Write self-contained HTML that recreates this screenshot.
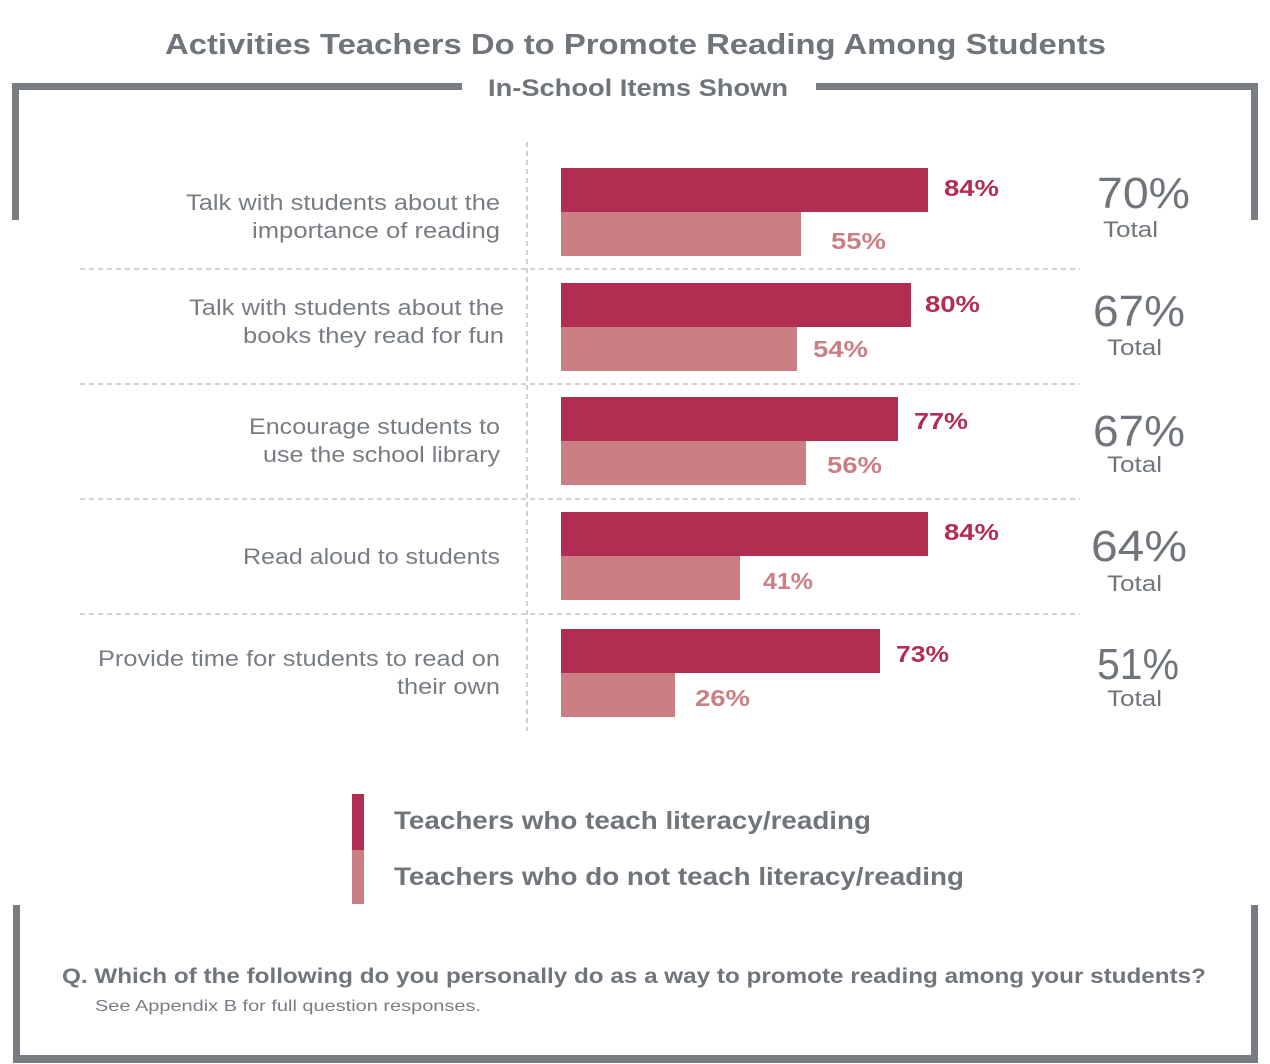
<!DOCTYPE html>
<html><head><meta charset="utf-8"><style>
body{margin:0;background:#fff;}
svg{display:block;font-family:"Liberation Sans",sans-serif;}
</style></head><body>
<svg width="1270" height="1064" viewBox="0 0 1270 1064">
<rect width="1270" height="1064" fill="#fff"/>
<g fill="#777d83">
<rect x="12" y="83" width="450" height="7"/>
<rect x="12" y="83" width="7" height="137"/>
<rect x="816" y="83" width="442" height="7"/>
<rect x="1251" y="83" width="7" height="137"/>
<rect x="13" y="905" width="7" height="158"/>
<rect x="13" y="1055" width="1245" height="8"/>
<rect x="1251" y="905" width="7" height="158"/>
</g>
<g lengthAdjust="spacingAndGlyphs">
<text x="165" y="54" textLength="941" lengthAdjust="spacingAndGlyphs" font-size="29" font-weight="bold" fill="#6f757b">Activities Teachers Do to Promote Reading Among Students</text>
<text x="488" y="96" textLength="300" lengthAdjust="spacingAndGlyphs" font-size="24" font-weight="bold" fill="#6f757b">In-School Items Shown</text>
</g>
<g stroke="#b5b8bb" stroke-width="1.3" stroke-dasharray="5,4">
<line x1="527" y1="142" x2="527" y2="731"/>
<line x1="80" y1="269" x2="1080" y2="269"/>
<line x1="80" y1="384" x2="1080" y2="384"/>
<line x1="80" y1="499" x2="1080" y2="499"/>
<line x1="80" y1="614" x2="1080" y2="614"/>
</g>
<g fill="#b12d51">
<rect x="561" y="168" width="367" height="44"/>
<rect x="561" y="283" width="350" height="44"/>
<rect x="561" y="397" width="337" height="44"/>
<rect x="561" y="512" width="367" height="44"/>
<rect x="561" y="629" width="319" height="44"/>
<rect x="352" y="794" width="12" height="56"/>
</g>
<g fill="#cb7e84">
<rect x="561" y="212" width="240" height="44"/>
<rect x="561" y="327" width="236" height="44"/>
<rect x="561" y="441" width="245" height="44"/>
<rect x="561" y="556" width="179" height="44"/>
<rect x="561" y="673" width="114" height="44"/>
<rect x="352" y="850" width="12" height="54"/>
</g>
<g font-size="23" font-weight="bold" fill="#b12d51">
<text x="944" y="196" textLength="55" lengthAdjust="spacingAndGlyphs">84%</text>
<text x="925" y="312" textLength="55" lengthAdjust="spacingAndGlyphs">80%</text>
<text x="914" y="429" textLength="54" lengthAdjust="spacingAndGlyphs">77%</text>
<text x="944" y="540" textLength="55" lengthAdjust="spacingAndGlyphs">84%</text>
<text x="896" y="662" textLength="53" lengthAdjust="spacingAndGlyphs">73%</text>
</g>
<g font-size="23" font-weight="bold" fill="#cb7e84">
<text x="831" y="249" textLength="55" lengthAdjust="spacingAndGlyphs">55%</text>
<text x="813" y="357" textLength="55" lengthAdjust="spacingAndGlyphs">54%</text>
<text x="827" y="473" textLength="55" lengthAdjust="spacingAndGlyphs">56%</text>
<text x="763" y="589" textLength="50" lengthAdjust="spacingAndGlyphs">41%</text>
<text x="695" y="706" textLength="55" lengthAdjust="spacingAndGlyphs">26%</text>
</g>
<g font-size="22" fill="#777d83">
<text x="186" y="210" textLength="314" lengthAdjust="spacingAndGlyphs">Talk with students about the</text>
<text x="252" y="238" textLength="248" lengthAdjust="spacingAndGlyphs">importance of reading</text>
<text x="189" y="315" textLength="315" lengthAdjust="spacingAndGlyphs">Talk with students about the</text>
<text x="243" y="343" textLength="261" lengthAdjust="spacingAndGlyphs">books they read for fun</text>
<text x="249" y="434" textLength="251" lengthAdjust="spacingAndGlyphs">Encourage students to</text>
<text x="263" y="462" textLength="237" lengthAdjust="spacingAndGlyphs">use the school library</text>
<text x="243" y="564" textLength="257" lengthAdjust="spacingAndGlyphs">Read aloud to students</text>
<text x="98" y="666" textLength="402" lengthAdjust="spacingAndGlyphs">Provide time for students to read on</text>
<text x="397" y="694" textLength="103" lengthAdjust="spacingAndGlyphs">their own</text>
</g>
<g fill="#6f757b">
<text x="1097" y="208" font-size="44" textLength="93" lengthAdjust="spacingAndGlyphs">70%</text>
<text x="1103" y="237" font-size="22" textLength="55" lengthAdjust="spacingAndGlyphs">Total</text>
<text x="1093" y="326" font-size="44" textLength="92" lengthAdjust="spacingAndGlyphs">67%</text>
<text x="1107" y="355" font-size="22" textLength="55" lengthAdjust="spacingAndGlyphs">Total</text>
<text x="1093" y="446" font-size="44" textLength="92" lengthAdjust="spacingAndGlyphs">67%</text>
<text x="1107" y="472" font-size="22" textLength="55" lengthAdjust="spacingAndGlyphs">Total</text>
<text x="1091" y="561" font-size="44" textLength="96" lengthAdjust="spacingAndGlyphs">64%</text>
<text x="1107" y="591" font-size="22" textLength="55" lengthAdjust="spacingAndGlyphs">Total</text>
<text x="1097" y="679" font-size="44" textLength="82" lengthAdjust="spacingAndGlyphs">51%</text>
<text x="1107" y="706" font-size="22" textLength="55" lengthAdjust="spacingAndGlyphs">Total</text>
</g>
<g font-size="25" font-weight="bold" fill="#6f757b">
<text x="394" y="829" textLength="477" lengthAdjust="spacingAndGlyphs">Teachers who teach literacy/reading</text>
<text x="394" y="885" textLength="570" lengthAdjust="spacingAndGlyphs">Teachers who do not teach literacy/reading</text>
</g>
<text x="62" y="983" font-size="21" font-weight="bold" fill="#6f757b" textLength="1144" lengthAdjust="spacingAndGlyphs">Q. Which of the following do you personally do as a way to promote reading among your students?</text>
<text x="95" y="1011" font-size="16" fill="#777d83" textLength="386" lengthAdjust="spacingAndGlyphs">See Appendix B for full question responses.</text>
</svg>
</body></html>
